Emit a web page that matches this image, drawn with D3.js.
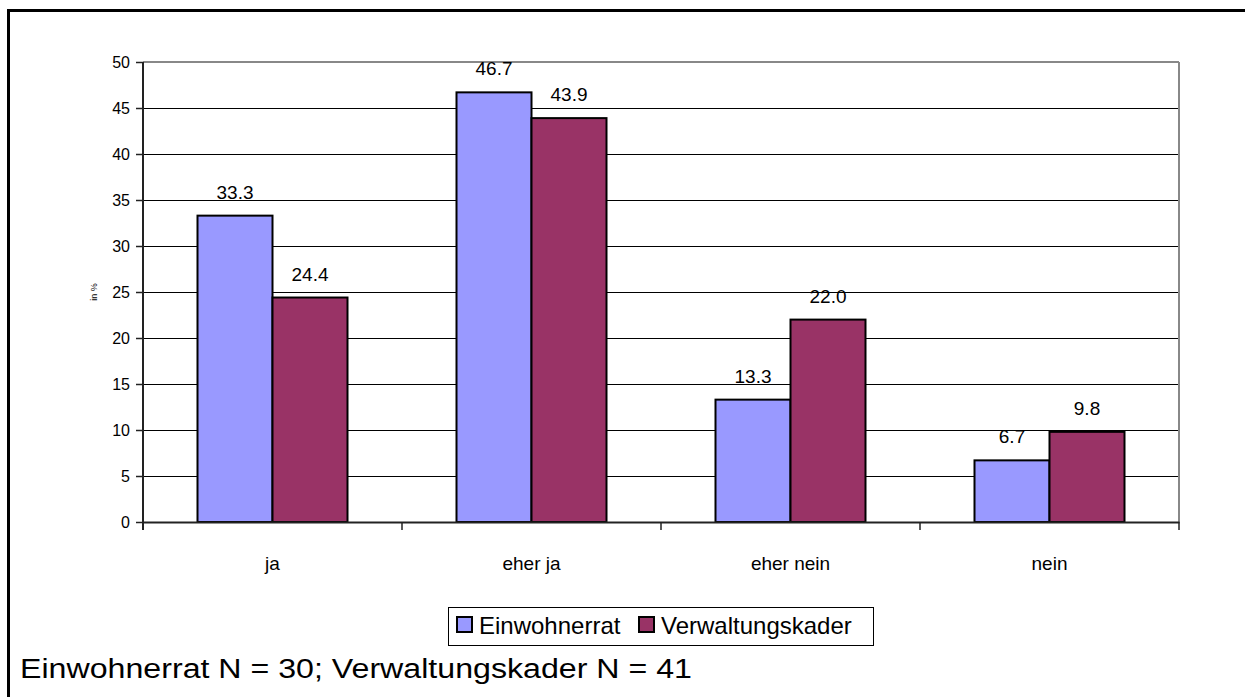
<!DOCTYPE html>
<html><head><meta charset="utf-8">
<script src="https://cdn.jsdelivr.net/npm/d3@7"></script>
<style>body{margin:0;background:#fff}svg{display:block;font-family:"Liberation Sans",Arial,sans-serif}</style>
</head><body><svg id="c" width="1245" height="697"></svg>
<script>
const categories = ["ja", "eher ja", "eher nein", "nein"];
const seriesNames = ["Einwohnerrat", "Verwaltungskader"];
const einwohnerrat = [33.3, 46.7, 13.3, 6.7];
const verwaltungskader = [24.4, 43.9, 22.0, 9.8];
const yTicks = [0, 5, 10, 15, 20, 25, 30, 35, 40, 45, 50];
const colors = ["#9999FF", "#993366"];
const footer = "Einwohnerrat N = 30; Verwaltungskader N = 41";

const svg = d3.select("#c");
const L = 143, R = 1179, T = 62, B = 522;

svg.append("rect").attr("x", 8.5).attr("y", 10.5).attr("width", 1245).attr("height", 700)
  .attr("fill", "none").attr("stroke", "#000").attr("stroke-width", 3);

const x0 = d3.scaleBand().domain(categories).range([L, R]).paddingInner(0).paddingOuter(0);
const x1 = d3.scaleBand().domain(seriesNames).range([0, 150]);
const groupOff = (x0.bandwidth() - 150) / 2;
const y = d3.scaleLinear().domain([0, 50]).range([B, T]);

// gridlines
svg.append("g").selectAll("line").data(yTicks.filter(t => t > 0 && t < 50)).join("line")
  .attr("x1", L).attr("x2", R).attr("y1", d => Math.round(y(d)) + 0.5).attr("y2", d => Math.round(y(d)) + 0.5)
  .attr("stroke", "#000").attr("stroke-width", 1);
// top and right border of plot
svg.append("line").attr("x1", L).attr("x2", R).attr("y1", T).attr("y2", T).attr("stroke", "#888").attr("stroke-width", 2);
svg.append("line").attr("x1", R).attr("x2", R).attr("y1", T).attr("y2", B).attr("stroke", "#888").attr("stroke-width", 2);

// bars
const data = categories.map((c, i) => ({c, vals: [einwohnerrat[i], verwaltungskader[i]]}));
const groups = svg.append("g").selectAll("g").data(data).join("g")
  .attr("transform", d => `translate(${x0(d.c) + groupOff},0)`);
groups.selectAll("rect").data(d => d.vals.map((v, j) => ({v, s: seriesNames[j], j}))).join("rect")
  .attr("x", d => x1(d.s)).attr("width", x1.bandwidth())
  .attr("y", d => y(d.v)).attr("height", d => y(0) - y(d.v))
  .attr("fill", d => colors[d.j]).attr("stroke", "#000").attr("stroke-width", 2);
groups.selectAll("text").data(d => d.vals.map((v, j) => ({v, s: seriesNames[j]}))).join("text")
  .attr("x", d => x1(d.s) + x1.bandwidth() / 2).attr("y", d => y(d.v) - 17)
  .attr("text-anchor", "middle").attr("font-size", 19).attr("fill", "#000")
  .text(d => d.v.toFixed(1));

// y axis
const yAxis = svg.append("g").attr("transform", `translate(${L},0)`)
  .call(d3.axisLeft(y).tickValues(yTicks).tickSize(7).tickPadding(6).tickFormat(d3.format("d")));
yAxis.select(".domain").attr("stroke", "#222").attr("stroke-width", 2).attr("d", `M0,${T}V${B + 8}`);
yAxis.selectAll(".tick line").attr("stroke", "#222").attr("stroke-width", 1.5);
yAxis.selectAll(".tick text").attr("font-size", 16).attr("fill", "#000").attr("font-family", "Liberation Sans, Arial, sans-serif");

// x axis
const xAxis = svg.append("g").attr("transform", `translate(0,${B})`)
  .call(d3.axisBottom(x0).tickSize(0).tickPadding(35));
xAxis.select(".domain").attr("stroke", "#222").attr("stroke-width", 2);
xAxis.selectAll(".tick text").attr("font-size", 19).attr("fill", "#000").attr("font-family", "Liberation Sans, Arial, sans-serif");
const bounds = categories.map(c => x0(c)).concat([R]);
svg.append("g").selectAll("line").data(bounds).join("line")
  .attr("x1", d => d).attr("x2", d => d).attr("y1", B).attr("y2", B + 8)
  .attr("stroke", "#222").attr("stroke-width", 1.5);

// y title
svg.append("text").attr("transform", `translate(97,292) rotate(-90)`).attr("text-anchor", "middle")
  .attr("font-size", 9).text("in %");

// legend
const lg = svg.append("g");
lg.append("rect").attr("x", 448.5).attr("y", 607.5).attr("width", 425).attr("height", 38)
  .attr("fill", "#fff").attr("stroke", "#000").attr("stroke-width", 1);
const lx = [457, 639];
seriesNames.forEach((s, i) => {
  lg.append("rect").attr("x", lx[i]).attr("y", 617).attr("width", 15).attr("height", 15)
    .attr("fill", colors[i]).attr("stroke", "#000").attr("stroke-width", 2);
  lg.append("text").attr("x", lx[i] + 22).attr("y", 634).attr("font-size", 24).text(s);
});

// footer
svg.append("text").attr("x", 20).attr("y", 678).attr("font-size", 27)
  .attr("textLength", 672).attr("lengthAdjust", "spacingAndGlyphs").text(footer);
</script></body></html>
